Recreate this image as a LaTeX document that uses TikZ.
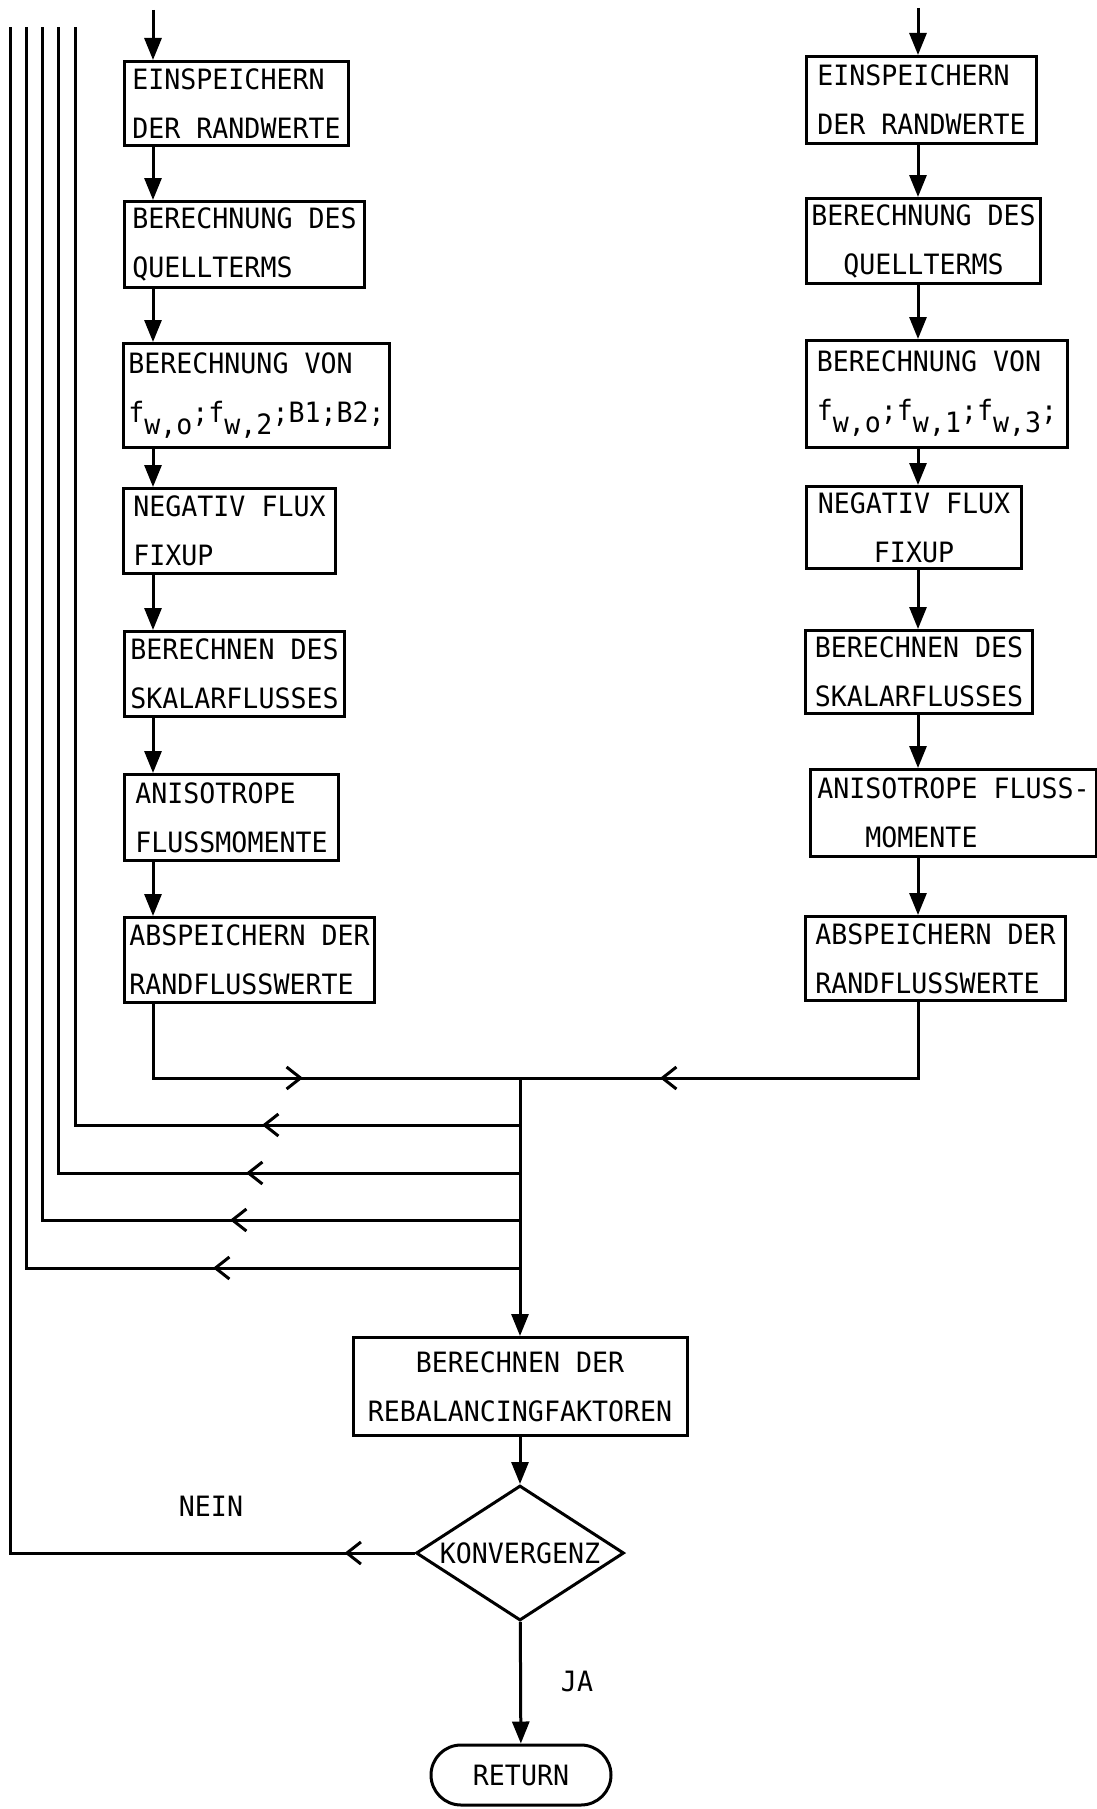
\documentclass[tikz,border=0pt]{standalone}
\usepackage{fontspec}
\usetikzlibrary{arrows.meta, positioning, shapes.geometric, decorations.markings}
\newfontfamily\schreib[FakeStretch=0.95]{DejaVu Sans Mono}
\newcommand{\tief}[1]{\raisebox{-6pt}{#1}}

\begin{document}
\begin{tikzpicture}[x=0.5pt, y=-0.5pt, line width=1.5pt,
    schrift/.style={font=\schreib\fontsize{14}{24.5}\selectfont},
    kasten/.style={draw, rectangle, schrift, anchor=north west, align=left,
        inner xsep=2pt, inner ysep=2pt, minimum width=#1},
    raute/.style={draw, diamond, schrift, aspect=1.54, inner sep=0pt,
        minimum width=104pt, minimum height=67.5pt},
    ende/.style={draw, rectangle, schrift, rounded corners=15pt,
        minimum width=90pt, minimum height=30pt},
    pfeil/.style={-{Triangle[length=11pt, width=8.5pt]}},
    spitze/.style={postaction={decorate, decoration={markings,
        mark=at position #1 with {\arrow{Straight Barb[length=7pt, width=11pt]}}}}}]
    \useasboundingbox (0,0) rectangle (1097,1809);
    % linke Spalte
    \node[kasten=112pt, minimum height=42pt] (l1) at (123,60) {EINSPEICHERN\\DER RANDWERTE};
    \node[kasten=120pt, minimum height=43pt] (l2) at (123,200) {BERECHNUNG DES\\QUELLTERMS};
    \node[kasten=133pt, minimum height=52pt] (l3) at (122,342) {BERECHNUNG VON\\f\tief{w,o};f\tief{w,2};B1;B2;};
    \node[kasten=106pt, minimum height=42.5pt] (l4) at (122,487) {NEGATIV FLUX\\FIXUP};
    \node[kasten=110pt, minimum height=42.5pt] (l5) at (123,630) {BERECHNEN DES\\SKALARFLUSSES};
    \node[kasten=107pt, minimum height=43pt] (l6) at (123,773) {ANISOTROPE\\FLUSSMOMENTE};
    \node[kasten=125pt, minimum height=42.5pt] (l7) at (123,916) {ABSPEICHERN DER\\RANDFLUSSWERTE};
    % rechte Spalte
    \node[kasten=115pt, minimum height=43.5pt] (r1) at (805,55) {EINSPEICHERN\\DER RANDWERTE};
    \node[kasten=117pt, minimum height=42.5pt, align=center] (r2) at (805,197) {BERECHNUNG DES\\QUELLTERMS};
    \node[kasten=130.5pt, minimum height=53.5pt] (r3) at (805,339) {BERECHNUNG VON\\f\tief{w,o};f\tief{w,1};f\tief{w,3};};
    \node[kasten=107.5pt, minimum height=41pt, align=center] (r4) at (805,485) {NEGATIV FLUX\\FIXUP};
    \node[kasten=113.5pt, minimum height=41.5pt] (r5) at (804,629) {BERECHNEN DES\\SKALARFLUSSES};
    \node[kasten=143pt, minimum height=43.5pt] (r6) at (809,768) {ANISOTROPE FLUSS-\\\phantom{ANI}MOMENTE};
    \node[kasten=130pt, minimum height=42pt] (r7) at (804,915) {ABSPEICHERN DER\\RANDFLUSSWERTE};
    % Zulauf
    \coordinate (lx) at (153,10);
    \coordinate (rx) at (918,8);
    \draw[pfeil] (lx) -- (l1.north -| lx);
    \draw[pfeil] (rx) -- (r1.north -| rx);
    \foreach \a/\b in {l1/l2, l2/l3, l3/l4, l4/l5, l5/l6, l6/l7}
        \draw[pfeil] (\a.south -| lx) -- (\b.north -| lx);
    \foreach \a/\b in {r1/r2, r2/r3, r3/r4, r4/r5, r5/r6, r6/r7}
        \draw[pfeil] (\a.south -| rx) -- (\b.north -| rx);
    % Zusammenfuehrung
    \coordinate (knoten) at (520,1078);
    \draw[spitze=112pt] (l7.south -| lx) |- (knoten);
    \draw[spitze=167pt] (r7.south -| rx) |- (knoten);
    % Rueckfuehrungen
    \foreach \xl/\yl/\d in {75/1125/129, 58/1173/137, 42/1220/145, 26/1268/153.5}
        \draw[spitze=\d pt] (knoten |- 0,\yl) -- (\xl,\yl) -- (\xl,27);
    % Rebalancing und Abfrage
    \node[kasten=167pt, minimum height=49pt, anchor=north, align=center] (rebal) at (520,1336)
        {BERECHNEN DER\\REBALANCINGFAKTOREN};
    \draw[pfeil] (knoten) -- (rebal);
    \node[raute] (konv) at (520,1553) {KONVERGENZ};
    \draw[pfeil] (rebal) -- (konv);
    \node[ende] (ret) at (521,1775) {RETURN};
    \draw[pfeil] (konv) -- (ret);
    \draw[spitze=35pt] (konv.west) -| (10,27);
    \node[schrift] (nein) at (211,1506) {NEIN};
    \node[schrift] (ja) at (577,1681) {JA};
\end{tikzpicture}
\end{document}
